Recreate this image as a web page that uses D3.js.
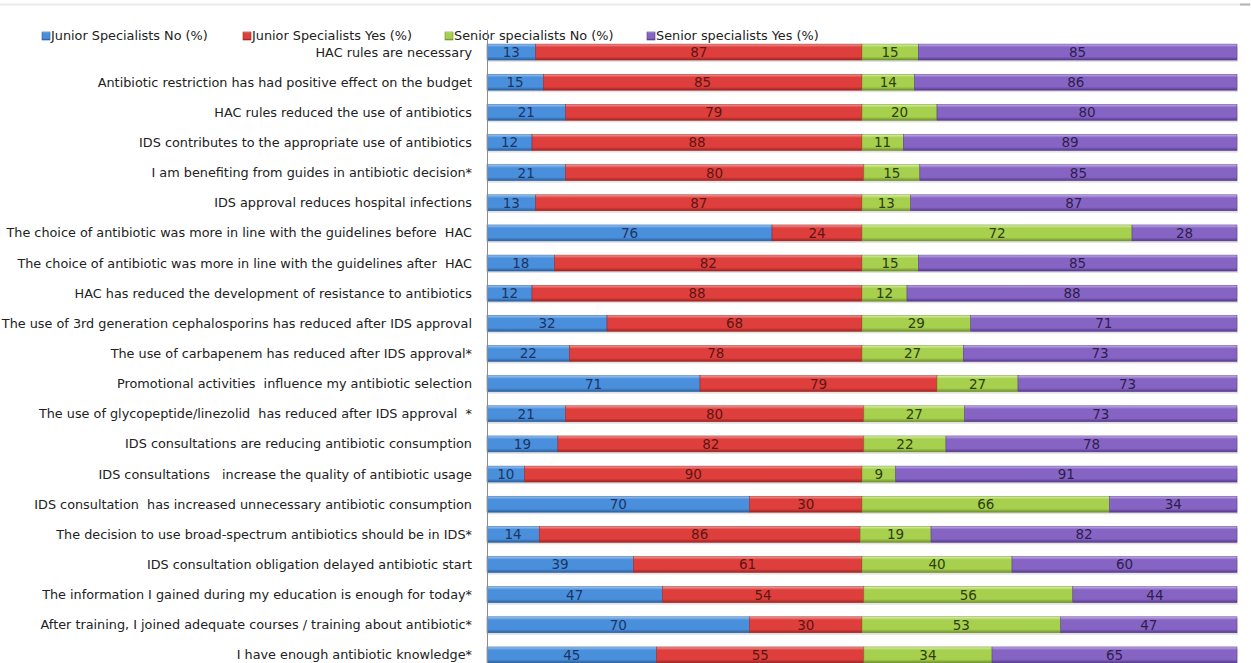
<!DOCTYPE html>
<html>
<head>
<meta charset="utf-8">
<script src="https://cdn.jsdelivr.net/npm/d3@7/dist/d3.min.js"></script>
<style>
  html, body { margin: 0; padding: 0; background: #fff; }
  svg { display: block; }
  text { font-family: "DejaVu Sans", "Open Sans", sans-serif; white-space: pre; }
</style>
</head>
<body>
<svg id="chart" width="1251" height="663"></svg>
<script>
const categories = [
  "HAC rules are necessary",
  "Antibiotic restriction has had positive effect on the budget",
  "HAC rules reduced the use of antibiotics",
  "IDS contributes to the appropriate use of antibiotics",
  "I am benefiting from guides in antibiotic decision*",
  "IDS approval reduces hospital infections",
  "The choice of antibiotic was more in line with the guidelines before  HAC",
  "The choice of antibiotic was more in line with the guidelines after  HAC",
  "HAC has reduced the development of resistance to antibiotics",
  "The use of 3rd generation cephalosporins has reduced after IDS approval",
  "The use of carbapenem has reduced after IDS approval*",
  "Promotional activities  influence my antibiotic selection",
  "The use of glycopeptide/linezolid  has reduced after IDS approval  *",
  "IDS consultations are reducing antibiotic consumption",
  "IDS consultations   increase the quality of antibiotic usage",
  "IDS consultation  has increased unnecessary antibiotic consumption",
  "The decision to use broad-spectrum antibiotics should be in IDS*",
  "IDS consultation obligation delayed antibiotic start",
  "The information I gained during my education is enough for today*",
  "After training, I joined adequate courses / training about antibiotic*",
  "I have enough antibiotic knowledge*"
];
const seriesNames = [
  "Junior Specialists No (%)",
  "Junior Specialists Yes (%)",
  "Senior specialists No (%)",
  "Senior specialists Yes (%)"
];
const juniorNo  = [13, 15, 21, 12, 21, 13, 76, 18, 12, 32, 22, 71, 21, 19, 10, 70, 14, 39, 47, 70, 45];
const juniorYes = [87, 85, 79, 88, 80, 87, 24, 82, 88, 68, 78, 79, 80, 82, 90, 30, 86, 61, 54, 30, 55];
const seniorNo  = [15, 14, 20, 11, 15, 13, 72, 15, 12, 29, 27, 27, 27, 22,  9, 66, 19, 40, 56, 53, 34];
const seniorYes = [85, 86, 80, 89, 85, 87, 28, 85, 88, 71, 73, 73, 73, 78, 91, 34, 82, 60, 44, 47, 65];

const keys = ["jn", "jy", "sn", "sy"];
const rows = categories.map((c, i) => ({
  cat: c, jn: juniorNo[i], jy: juniorYes[i], sn: seniorNo[i], sy: seniorYes[i]
}));

const colors = {
  jn: { light: "#9cc6f2", base: "#4a8fdc", dark: "#2a5f9e", text: "#1b3563" },
  jy: { light: "#f39a98", base: "#df3f3c", dark: "#9c2321", text: "#5e1514" },
  sn: { light: "#dcf2a8", base: "#a6d04e", dark: "#6e8f2a", text: "#2f3d12" },
  sy: { light: "#c3aee8", base: "#8664c4", dark: "#56398c", text: "#2d1e4c" }
};

const svg = d3.select("#chart");
const defs = svg.append("defs");
keys.forEach(k => {
  const g = defs.append("linearGradient").attr("id", "g_" + k)
    .attr("x1", 0).attr("y1", 0).attr("x2", 0).attr("y2", 1);
  g.append("stop").attr("offset", "0%").attr("stop-color", colors[k].light);
  g.append("stop").attr("offset", "20%").attr("stop-color", colors[k].base);
  g.append("stop").attr("offset", "78%").attr("stop-color", colors[k].base);
  g.append("stop").attr("offset", "100%").attr("stop-color", colors[k].dark);
});

const left = 487, right = 1237;
const x = d3.scaleLinear().domain([0, 1]).range([left, right]);
const y = d3.scaleBand().domain(categories).range([37, 670])
  .paddingInner(0.47).paddingOuter(0.235);

const stacked = d3.stack().keys(keys).offset(d3.stackOffsetExpand)(rows);

function fitSize(str, target, base) {
  const t = svg.append("text").attr("font-size", base).text(str);
  const w = t.node().getComputedTextLength();
  t.remove();
  return base * target / w;
}
const labelSize = fitSize(categories[6], 466, 12);
const legendSize = fitSize(seriesNames[0], 157, 12);

// top faint line
svg.append("line").attr("x1", 0).attr("x2", 1251).attr("y1", 4.5).attr("y2", 4.5)
  .attr("stroke", "#ececec").attr("stroke-width", 2);
svg.append("line").attr("x1", 1240).attr("x2", 1250).attr("y1", 4.5).attr("y2", 4.5)
  .attr("stroke", "#b5b5b5").attr("stroke-width", 2);

// legend
const legendX = [42, 243, 445, 647];
const legend = svg.append("g");
seriesNames.forEach((name, i) => {
  const k = keys[i];
  legend.append("rect").attr("x", legendX[i]).attr("y", 32).attr("width", 8).attr("height", 8)
    .attr("fill", "url(#g_" + k + ")").attr("stroke", colors[k].dark).attr("stroke-width", 0.6);
  legend.append("text").attr("x", legendX[i] + 9).attr("y", 36).attr("dy", "0.35em")
    .attr("font-size", legendSize).attr("fill", "#222").text(name);
});

// category labels
svg.append("g").selectAll("text").data(categories).join("text")
  .attr("x", 472).attr("y", d => y(d) + y.bandwidth() / 2).attr("dy", "0.35em")
  .attr("text-anchor", "end").attr("font-size", labelSize).attr("fill", "#222")
  .text(d => d);

// shadows
svg.append("g").selectAll("rect").data(categories).join("rect")
  .attr("x", x(0) + 1).attr("y", d => y(d) + 2).attr("width", x(1) - x(0))
  .attr("height", y.bandwidth()).attr("fill", "#d6d6d6").attr("opacity", 0.7);

// bars
const layers = svg.append("g").selectAll("g").data(stacked).join("g");
layers.selectAll("rect").data(d => d.map(v => ({ v, key: d.key }))).join("rect")
  .attr("x", d => x(d.v[0]))
  .attr("y", d => y(d.v.data.cat))
  .attr("width", d => x(d.v[1]) - x(d.v[0]))
  .attr("height", y.bandwidth())
  .attr("fill", d => "url(#g_" + d.key + ")")
  .attr("stroke", d => colors[d.key].dark).attr("stroke-width", 0.5);

// data labels
layers.selectAll("text").data(d => d.map(v => ({ v, key: d.key }))).join("text")
  .attr("x", d => (x(d.v[0]) + x(d.v[1])) / 2)
  .attr("y", d => y(d.v.data.cat) + y.bandwidth() / 2)
  .attr("dy", "0.37em").attr("text-anchor", "middle")
  .attr("font-size", 13.5).attr("fill", d => colors[d.key].text)
  .text(d => d.v.data[d.key]);

// axis line
svg.append("line").attr("x1", left + 0.5).attr("x2", left + 0.5)
  .attr("y1", 30).attr("y2", 663).attr("stroke", "#8c8c8c").attr("stroke-width", 1);
</script>
</body>
</html>
